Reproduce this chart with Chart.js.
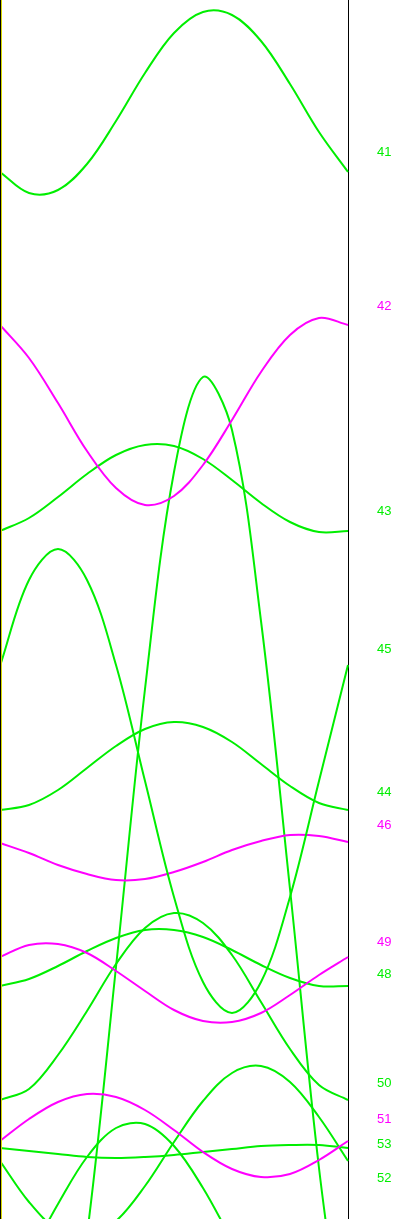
<!DOCTYPE html>
<html>
<head>
<meta charset="utf-8">
<script src="https://cdn.jsdelivr.net/npm/chart.js@4/dist/chart.umd.min.js"></script>
<style>
  html, body { margin: 0; padding: 0; background: #fff; }
  #wrap { position: relative; width: 414px; height: 1219px; }
</style>
</head>
<body>
<div id="wrap"><canvas id="myChart"></canvas></div>
<script>
// x positions across the plot (13 evenly spaced steps)
const steps = [0, 1, 2, 3, 4, 5, 6, 7, 8, 9, 10, 11, 12]

// series values (y grows downward)
const s41 = [172, 193, 190, 164, 121, 73, 33, 12, 15, 41, 84, 132, 172]
const s42 = [325, 358, 403, 451, 488, 505, 496, 465, 420, 372, 335, 318, 325]
const s43 = [531, 518, 497, 474, 455, 445, 446, 459, 480, 503, 522, 532, 531]
const s45 = [666, 580, 549, 580, 665, 781, 897, 982, 1013, 982, 897, 781, 665]
const s44 = [810, 805, 790, 768, 746, 729, 722, 727, 742, 764, 786, 803, 810]
const s46 = [843, 853, 865, 874, 880, 879, 872, 862, 850, 841, 835, 836, 842]
const s49 = [957, 945, 944, 953, 971, 991, 1010, 1021, 1022, 1013, 995, 975, 957]
const s48 = [986, 979, 966, 951, 938, 930, 930, 937, 950, 965, 978, 986, 986]
const s50 = [1100, 1089, 1055, 1011, 964, 928, 913, 923, 955, 1002, 1049, 1085, 1100]
const s51 = [1141, 1119, 1102, 1094, 1097, 1110, 1130, 1152, 1169, 1177, 1174, 1160, 1141]
const s53 = [1148, 1151, 1154, 1157, 1158, 1157, 1155, 1152, 1149, 1146, 1145, 1145, 1148]
const s52 = [1161, 1202, 1230, 1237, 1221, 1186, 1142, 1101, 1073, 1066, 1082, 1117, 1161]
const sArch = [1298, 1256, 1204, 1157, 1128, 1124, 1146, 1188, 1240, 1287, 1316, 1320, 1298]
const sTall = [1382, 1474, 1421, 1235, 967, 689, 472, 377, 430, 621, 889, 1168, 1382]

// right-hand labels and where they sit
const labelNames = ['41', '42', '43', '45', '44', '46', '49', '48', '50', '51', '53', '52']
const labelPos = [152, 306, 511, 649, 792, 825, 942, 974, 1083, 1119, 1144, 1178]

const green = '#00ee00'
const magenta = '#ff00ff'
const labelColors = [green, magenta, green, green, green, magenta, magenta, green, green, magenta, green, green]

const series = [
  { name: '41', data: s41, color: green },
  { name: '42', data: s42, color: magenta },
  { name: '43', data: s43, color: green },
  { name: '45', data: s45, color: green },
  { name: '44', data: s44, color: green },
  { name: '46', data: s46, color: magenta },
  { name: '49', data: s49, color: magenta },
  { name: '48', data: s48, color: green },
  { name: '50', data: s50, color: green },
  { name: '51', data: s51, color: magenta },
  { name: '53', data: s53, color: green },
  { name: '52', data: s52, color: green },
  { name: 'a', data: sArch, color: green },
  { name: 'b', data: sTall, color: green },
]

// black + yellow edge on the left side
const leftEdge = {
  id: 'leftEdge',
  afterDraw(chart) {
    const ctx = chart.ctx
    const { top, bottom, left } = chart.chartArea
    ctx.save()
    ctx.fillStyle = '#000'
    ctx.fillRect(left, top, 1, bottom - top)
    ctx.fillStyle = '#d8d800'
    ctx.fillRect(left + 1, top, 1, bottom - top)
    ctx.restore()
  }
}

const config = {
  type: 'line',
  data: {
    labels: steps,
    datasets: series.map(s => ({
      label: s.name,
      data: s.data,
      borderColor: s.color,
      borderWidth: 2,
      pointRadius: 0,
      fill: false,
      tension: 0.35,
    })),
  },
  options: {
    responsive: true,
    maintainAspectRatio: false,
    animation: false,
    layout: { padding: 0 },
    plugins: {
      legend: { display: false },
      tooltip: { enabled: false },
    },
    scales: {
      x: { display: false, offset: false },
      y: {
        position: 'right',
        reverse: true,
        min: 0,
        max: 1219,
        afterBuildTicks: (scale) => {
          scale.ticks = labelPos.map(v => ({ value: v }))
        },
        afterFit: (scale) => {
          scale.width = 66
          scale.paddingTop = 0
          scale.paddingBottom = 0
        },
        grid: { display: false, drawTicks: false },
        border: { display: true, color: '#000', width: 1 },
        ticks: {
          autoSkip: false,
          padding: 29,
          font: { family: "'Liberation Sans', Arial, sans-serif", size: 13 },
          color: (ctx) => labelColors[ctx.index],
          callback: (value, index) => labelNames[index],
        },
      },
    },
  },
  plugins: [leftEdge],
}

const myChart = new Chart(document.getElementById('myChart'), config)
</script>
</body>
</html>
